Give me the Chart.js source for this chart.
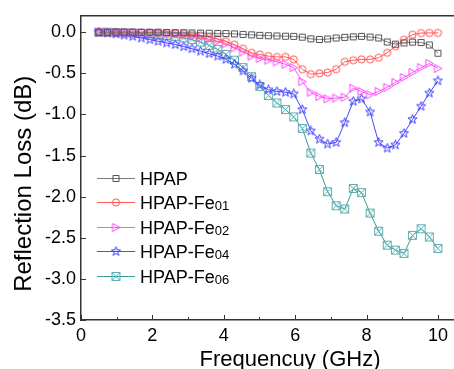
<!DOCTYPE html>
<html>
<head>
<meta charset="utf-8">
<script src="https://cdn.jsdelivr.net/npm/chart.js@4.4.1/dist/chart.umd.min.js"></script>
<style>
  html, body { margin: 0; padding: 0; background: #fff; overflow: hidden; }
  #chartWrapper { position: relative; width: 454px; height: 369px; overflow: hidden; }
</style>
</head>
<body>
<div id="chartWrapper"><canvas id="rlChart" width="500" height="369"></canvas></div>
<script>
const freq = [0.5, 0.74, 0.98, 1.21, 1.45, 1.69, 1.93, 2.16, 2.4, 2.64, 2.88, 3.11, 3.35, 3.59,
  3.83, 4.06, 4.3, 4.54, 4.78, 5.01, 5.25, 5.49, 5.73, 5.96, 6.2, 6.44, 6.68, 6.91, 7.15, 7.39,
  7.63, 7.86, 8.1, 8.34, 8.58, 8.81, 9.05, 9.29, 9.53, 9.76, 10];

const hpap = [0, 0, 0, 0, 0, 0, 0, 0, -0.003, -0.005, -0.005, -0.008, -0.01, -0.012, -0.014,
  -0.016, -0.02, -0.026, -0.032, -0.038, -0.042, -0.045, -0.048, -0.05, -0.06, -0.08, -0.088,
  -0.082, -0.07, -0.062, -0.056, -0.05, -0.058, -0.07, -0.118, -0.145, -0.13, -0.12, -0.125,
  -0.155, -0.255];
const fe01 = [0, 0, 0, 0, 0, -0.003, -0.005, -0.008, -0.01, -0.015, -0.02, -0.03, -0.04, -0.06,
  -0.08, -0.11, -0.15, -0.2, -0.25, -0.27, -0.29, -0.3, -0.3, -0.33, -0.45, -0.51, -0.5, -0.49,
  -0.45, -0.36, -0.34, -0.33, -0.33, -0.31, -0.25, -0.17, -0.09, -0.03, -0.01, -0.008, -0.008];
const fe02 = [0, 0, 0, -0.003, -0.005, -0.008, -0.01, -0.013, -0.017, -0.022, -0.03, -0.045,
  -0.065, -0.085, -0.11, -0.14, -0.19, -0.24, -0.29, -0.32, -0.34, -0.36, -0.39, -0.43, -0.6,
  -0.73, -0.78, -0.81, -0.8, -0.79, -0.68, -0.72, -0.76, -0.72, -0.67, -0.61, -0.55, -0.49,
  -0.43, -0.38, -0.44];
const fe04 = [0, -0.01, -0.02, -0.035, -0.05, -0.07, -0.09, -0.11, -0.13, -0.15, -0.175, -0.2,
  -0.23, -0.26, -0.29, -0.33, -0.39, -0.47, -0.56, -0.64, -0.7, -0.72, -0.73, -0.75, -0.94, -1.2,
  -1.3, -1.36, -1.34, -1.1, -0.84, -0.81, -0.97, -1.34, -1.41, -1.37, -1.23, -1.06, -0.9, -0.74,
  -0.59];
const fe06 = [0, 0, -0.003, -0.006, -0.01, -0.015, -0.02, -0.03, -0.04, -0.055, -0.07, -0.09,
  -0.12, -0.16, -0.21, -0.27, -0.34, -0.43, -0.54, -0.66, -0.77, -0.86, -0.94, -1.03, -1.17,
  -1.47, -1.67, -1.94, -2.11, -2.15, -1.9, -1.95, -2.2, -2.42, -2.59, -2.65, -2.69, -2.47, -2.39,
  -2.49, -2.63];

const seriesNames = ["HPAP", "HPAP-Fe", "HPAP-Fe", "HPAP-Fe", "HPAP-Fe"];
const seriesSubs = ["", "01", "02", "04", "06"];
const xTicks = [0, 1, 2, 3, 4, 5, 6, 7, 8, 9, 10];
const yTicks = [0, -0.5, -1, -1.5, -2, -2.5, -3, -3.5];

const FONT = "'Liberation Sans', Arial, sans-serif";

// hollow marker images, used for points and legend
function makeMarker(kind, color) {
  const c = document.createElement("canvas");
  c.width = 11;
  c.height = 11;
  const g = c.getContext("2d");
  g.strokeStyle = color;
  g.lineWidth = 1;
  g.beginPath();
  if (kind === "square") {
    g.rect(2.5, 2.5, 6, 6);
  } else if (kind === "circle") {
    g.arc(5.5, 5.5, 3.6, 0, Math.PI * 2);
  } else if (kind === "triangle") {
    g.moveTo(2, 1.5);
    g.lineTo(9.5, 5.5);
    g.lineTo(2, 9.5);
    g.closePath();
  } else if (kind === "star") {
    for (let k = 0; k < 10; k++) {
      const r = k % 2 === 0 ? 4.8 : 2.0;
      const a = -Math.PI / 2 + (k * Math.PI) / 5;
      const px = 5.5 + r * Math.cos(a);
      const py = 5.5 + r * Math.sin(a);
      if (k === 0) g.moveTo(px, py);
      else g.lineTo(px, py);
    }
    g.closePath();
  } else if (kind === "xsquare") {
    g.rect(1.5, 1.5, 8, 8);
    g.moveTo(1.5, 1.5);
    g.lineTo(9.5, 9.5);
    g.moveTo(9.5, 1.5);
    g.lineTo(1.5, 9.5);
  }
  g.stroke();
  return c;
}

const lineColors = ["#7a7a7a", "#ff5a5a", "#ff55ff", "#4848ff", "#3a9a9a"];
const markers = [
  makeMarker("square", "#505050"),
  makeMarker("circle", "#ff5050"),
  makeMarker("triangle", "#ff44ff"),
  makeMarker("star", "#3a3aff"),
  makeMarker("xsquare", "#5fb0b0"),
];
const allSeries = [hpap, fe01, fe02, fe04, fe06];

const datasets = allSeries.map((vals, i) => ({
  label: seriesNames[i] + seriesSubs[i],
  data: freq.map((f, j) => ({ x: f, y: vals[j] })),
  borderColor: lineColors[i],
  borderWidth: 1,
  backgroundColor: "transparent",
  pointStyle: markers[i],
  pointRadius: 4,
  tension: 0,
  fill: false,
}));

// top border, inward ticks, axis titles and the inset legend
const decorations = {
  id: "decorations",
  afterDraw(chart) {
    const { ctx, chartArea } = chart;
    const xs = chart.scales.x;
    const ys = chart.scales.y;
    ctx.save();
    ctx.strokeStyle = "#333";
    ctx.lineWidth = 1.5;
    ctx.beginPath();
    ctx.moveTo(chartArea.left, chartArea.top);
    ctx.lineTo(chartArea.right, chartArea.top);
    ctx.stroke();

    ctx.lineWidth = 1;
    ctx.beginPath();
    xTicks.forEach((v) => {
      const px = Math.round(xs.getPixelForValue(v)) + 0.5;
      const len = v % 2 === 0 ? 5 : 3;
      ctx.moveTo(px, chartArea.bottom);
      ctx.lineTo(px, chartArea.bottom - len);
    });
    yTicks.forEach((v) => {
      const py = Math.round(ys.getPixelForValue(v)) + 0.5;
      ctx.moveTo(chartArea.left, py);
      ctx.lineTo(chartArea.left + 5, py);
    });
    ctx.stroke();

    // axis titles
    ctx.fillStyle = "#000";
    ctx.textAlign = "center";
    ctx.textBaseline = "alphabetic";
    ctx.font = "22px " + FONT;
    ctx.fillText("Frequencuy (GHz)", chartArea.left + 209, chartArea.bottom + 46);
    ctx.save();
    ctx.translate(31, chartArea.top + 168);
    ctx.rotate(-Math.PI / 2);
    ctx.font = "24px " + FONT;
    ctx.fillText("Reflection Loss (dB)", 0, 0);
    ctx.restore();

    // legend
    const lx = chartArea.left + 16;
    chart.data.datasets.forEach((ds, i) => {
      const ly = Math.round(chartArea.top + 162 + i * 24.5) + 0.5;
      ctx.strokeStyle = ds.borderColor;
      ctx.lineWidth = 1;
      ctx.beginPath();
      ctx.moveTo(lx, ly);
      ctx.lineTo(lx + 38, ly);
      ctx.stroke();
      ctx.drawImage(markers[i], lx + 19 - 5.5, ly - 5.5);
      ctx.fillStyle = "#000";
      ctx.textAlign = "left";
      ctx.textBaseline = "alphabetic";
      ctx.font = "18px " + FONT;
      ctx.fillText(seriesNames[i], lx + 43, ly + 6.5);
      if (seriesSubs[i]) {
        const w = ctx.measureText(seriesNames[i]).width;
        ctx.font = "13px " + FONT;
        ctx.fillText(seriesSubs[i], lx + 43 + w, ly + 7.5);
      }
    });
    ctx.restore();
  },
};

const chart = new Chart(document.getElementById("rlChart").getContext("2d"), {
  type: "line",
  data: { datasets },
  options: {
    responsive: false,
    devicePixelRatio: 1,
    animation: false,
    layout: { padding: { top: 13, right: 0, bottom: 0, left: 0 } },
    plugins: { legend: { display: false }, tooltip: { enabled: false } },
    scales: {
      x: {
        type: "linear",
        min: 0,
        max: 11.6,
        afterBuildTicks: (s) => { s.ticks = xTicks.map((v) => ({ value: v })); },
        afterFit: (s) => { s.height = 49; },
        ticks: {
          callback: (v) => (v % 2 === 0 ? String(v) : ""),
          color: "#000",
          font: { family: FONT, size: 18 },
          padding: 5,
          maxRotation: 0,
          autoSkip: false,
        },
        grid: { display: false, drawTicks: false },
        border: { display: true, color: "#333", width: 1.5 },
      },
      y: {
        min: -3.5,
        max: 0.2,
        afterBuildTicks: (s) => { s.ticks = yTicks.map((v) => ({ value: v })); },
        afterFit: (s) => { s.width = 81; },
        ticks: {
          callback: (v) => v.toFixed(1),
          color: "#000",
          font: { family: FONT, size: 18 },
          padding: 5,
          autoSkip: false,
        },
        grid: { display: false, drawTicks: false },
        border: { display: true, color: "#333", width: 1.5 },
      },
    },
  },
  plugins: [decorations],
});
</script>
</body>
</html>
